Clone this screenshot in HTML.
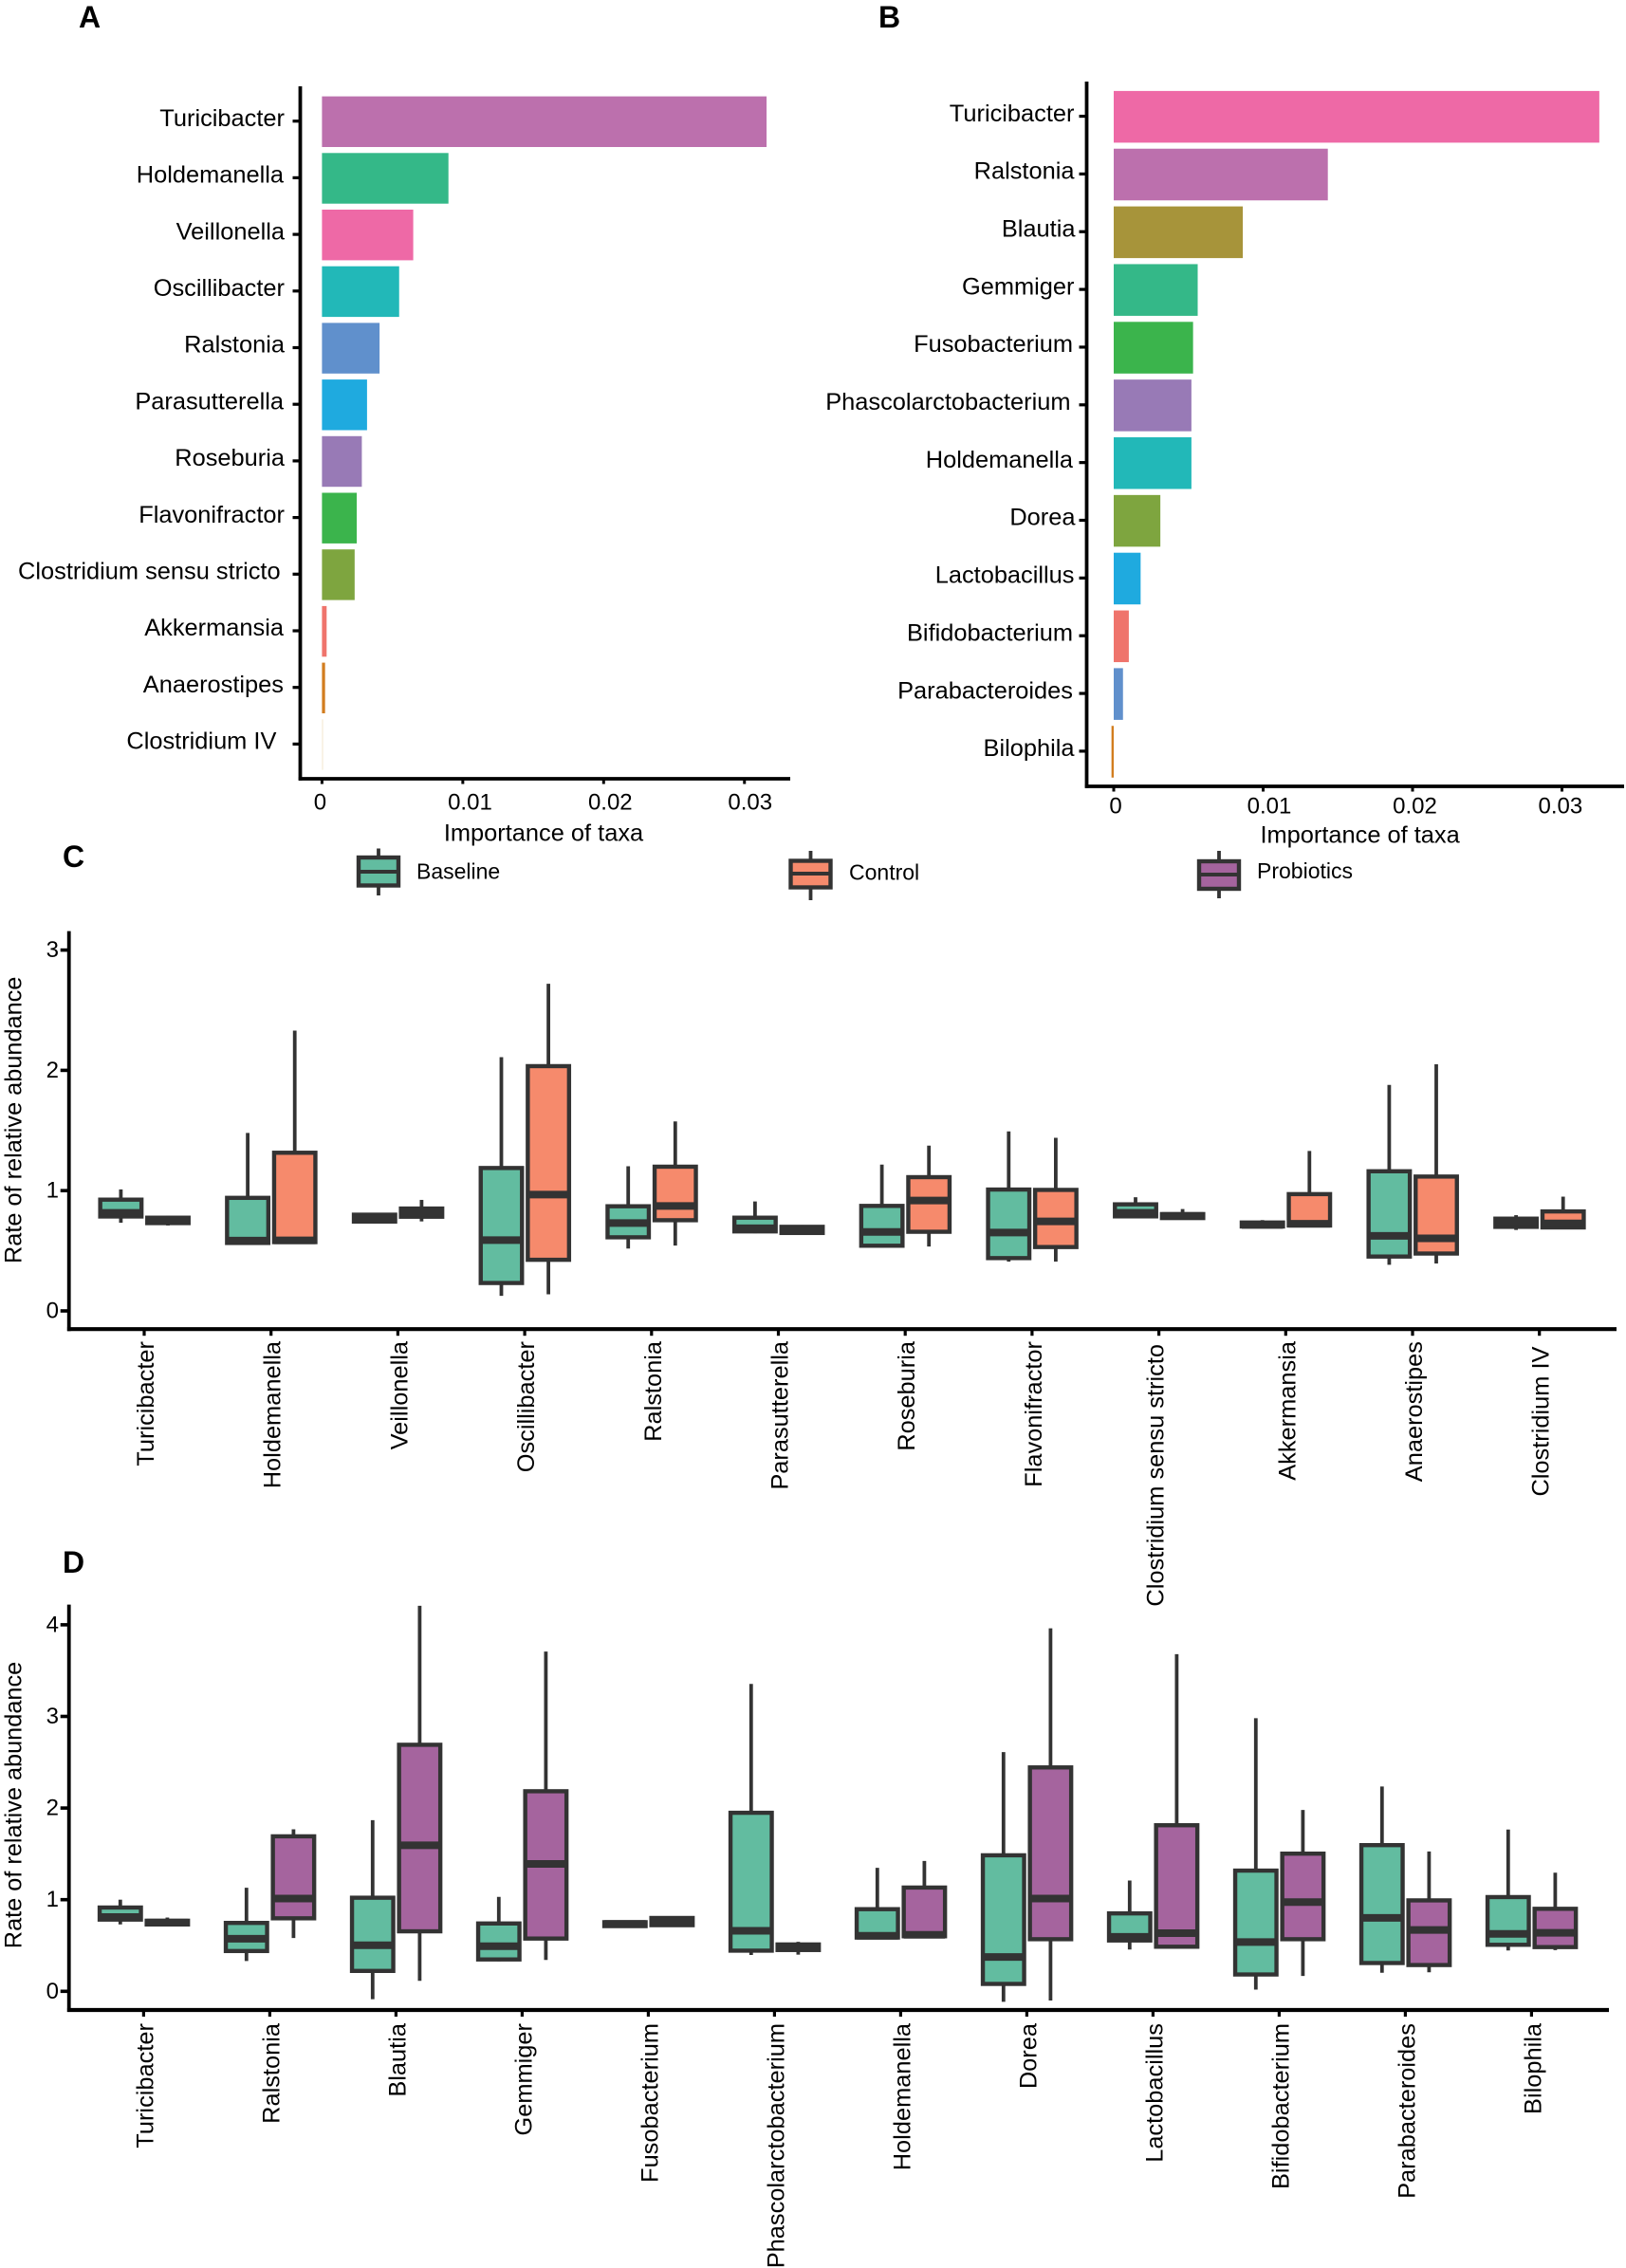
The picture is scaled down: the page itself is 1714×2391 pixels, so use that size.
<!DOCTYPE html>
<html lang="en">
<head>
<meta charset="utf-8">
<title>Importance of taxa and relative abundance</title>
<style>
html,body{margin:0;padding:0;background:#fff}
svg{display:block}
text{font-family:"Liberation Sans",Arial,sans-serif;fill:#000}
.letter{font-weight:bold;font-size:32px}
.legend-label{font-size:23px}
</style>
</head>
<body>
<svg id="fig" xmlns="http://www.w3.org/2000/svg" width="1714" height="2391" viewBox="0 0 1714 2391">
<rect x="0" y="0" width="1714" height="2391" fill="#fff"/>
<text class="letter" x="83" y="29">A</text>
<text class="letter" x="926" y="29">B</text>
<text class="letter" x="66" y="914">C</text>
<text class="letter" x="66" y="1658">D</text>
<g>
<g>
<line x1="399" x2="399" y1="894.5" y2="944" stroke="#333" stroke-width="3.8"/>
<rect x="378" y="904" width="42" height="29.5" fill="#62BCA0" stroke="#333" stroke-width="4.4"/>
<line x1="378" x2="420" y1="919" y2="919" stroke="#333" stroke-width="4"/>
<text class="legend-label" x="439" y="926.5">Baseline</text>
</g>
<g>
<line x1="854.5" x2="854.5" y1="897" y2="949" stroke="#333" stroke-width="3.8"/>
<rect x="833.5" y="907.5" width="42" height="28" fill="#F68A6C" stroke="#333" stroke-width="4.4"/>
<line x1="833.5" x2="875.5" y1="921" y2="921" stroke="#333" stroke-width="4"/>
<text class="legend-label" x="895" y="927.5">Control</text>
</g>
<g>
<line x1="1285" x2="1285" y1="897" y2="947" stroke="#333" stroke-width="3.8"/>
<rect x="1264" y="908" width="42" height="29" fill="#A5649E" stroke="#333" stroke-width="4.4"/>
<line x1="1264" x2="1306" y1="922" y2="922" stroke="#333" stroke-width="4"/>
<text class="legend-label" x="1325" y="926">Probiotics</text>
</g>
</g>
</svg>
<script>
// Panel A
const categoriesA = ["Turicibacter","Holdemanella","Veillonella","Oscillibacter","Ralstonia","Parasutterella","Roseburia","Flavonifractor","Clostridium sensu stricto","Akkermansia","Anaerostipes","Clostridium IV"];
const importanceA = [0.03157,0.00898,0.00648,0.00548,0.00409,0.0032,0.00283,0.00247,0.00232,0.00033,0.00022,0.00007];
const colorsA = ["#BC70AD","#34B888","#EE69A6","#22B8B8","#6090CC","#1FAADF","#987AB6","#3BB44C","#7EA53F","#EF746C","#D27D1F","#F5EBD5"];
const tickValuesA = [0,0.01,0.02,0.03];
const tickLabelsA = ["0","0.01","0.02","0.03"];
// Panel B
const categoriesB = ["Turicibacter","Ralstonia","Blautia","Gemmiger","Fusobacterium","Phascolarctobacterium","Holdemanella","Dorea","Lactobacillus","Bifidobacterium","Parabacteroides","Bilophila"];
const importanceB = [0.0325,0.01433,0.00864,0.00562,0.00531,0.0052,0.0052,0.00312,0.0018,0.00101,0.00062,-0.00015];
const colorsB = ["#EE69A6","#BC70AD","#A7943A","#34B888","#3BB44C","#987AB6","#22B8B8","#7EA53F","#1FAADF","#EF746C","#6090CC","#D27D1F"];
const tickValuesB = [0,0.01,0.02,0.03];
const tickLabelsB = ["0","0.01","0.02","0.03"];
// Panel C: each box is [low whisker, q1, median, q3, high whisker]
const categoriesC = categoriesA;
const baselineC = [
[.733,.77,.815,.94,1.01],[.55,.55,.585,.955,1.48],[.728,.728,.77,.815,.815],[.125,.217,.589,1.203,2.11],
[.519,.597,.73,.885,1.203],[.646,.646,.687,.79,.91],[.527,.527,.657,.888,1.216],[.41,.424,.652,1.024,1.493],
[.771,.771,.815,.901,.945],[.687,.687,.715,.75,.755],[.383,.437,.624,1.176,1.879],[.673,.684,.735,.782,.796]];
const controlC = [
[.71,.715,.75,.79,.79],[.557,.557,.587,1.33,2.33],[.744,.768,.817,.866,.923],[.138,.41,.967,2.05,2.72],
[.543,.739,.872,1.214,1.575],[.633,.633,.673,.714,.714],[.535,.643,.918,1.127,1.374],[.41,.516,.744,1.021,1.439],
[.757,.757,.79,.82,.847],[.695,.695,.725,.986,1.33],[.394,.462,.603,1.132,2.05],[.679,.679,.728,.842,.95]];
const yTicksC = [0,1,2,3];
const yTickLabelsC = ["0","1","2","3"];
// Panel D
const categoriesD = categoriesB;
const baselineD = [
[.73,.763,.81,.934,1.0],[.33,.42,.574,.766,1.13],[-.086,.203,.503,1.041,1.868],[.328,.328,.492,.76,1.03],
[.692,.692,.735,.774,.774],[.396,.424,.66,1.968,3.355],[.567,.567,.606,.916,1.348],[-.114,.061,.374,1.504,2.61],
[.456,.535,.595,.87,1.209],[.018,.164,.538,1.337,2.98],[.203,.289,.802,1.615,2.235],[.446,.488,.627,1.048,1.765]];
const probioticsD = [
[.71,.71,.75,.79,.805],[.581,.777,1.012,1.711,1.768],[.114,.635,1.594,2.71,4.207],[.342,.556,1.39,2.203,3.708],
[.702,.702,.76,.82,.82],[.4,.431,.48,.531,.54],[.581,.581,.617,1.152,1.422],[-.1,.549,1.012,2.463,3.961],
[.467,.467,.635,1.832,3.679],[.168,.549,.973,1.522,1.979],[.207,.267,.67,1.012,1.526],[.449,.463,.638,.92,1.294]];
const yTicksD = [0,1,2,3,4];
const yTickLabelsD = ["0","1","2","3","4"];

const GREEN = "#62BCA0", ORANGE = "#F68A6C", PURPLE = "#A5649E", INK = "#333";
const NS = "http://www.w3.org/2000/svg";
const fig = document.getElementById("fig");

function add(parent, tag, attrs, txt) {
  const el = document.createElementNS(NS, tag);
  for (const k in attrs) el.setAttribute(k, attrs[k]);
  if (txt !== undefined) el.textContent = txt;
  parent.appendChild(el);
  return el;
}
function slug(s) { return s.toLowerCase().replace(/[^a-z0-9]+/g, "-"); }

function group(name) {
  const g = add(fig, "g", {});
  
  
  return g;
}

function axisLine(g, name, x1, y1, x2, y2, w) {
  const l = add(g, "line", {x1, y1, x2, y2, stroke: "#000", "stroke-width": w});
  
  
  return l;
}

function barPanel(p) {
  const g = group("bar-panel-" + p.id);
  const x = v => p.x0 + v * p.perUnit;
  axisLine(g, "y-axis-line", p.axisX, p.top, p.axisX, p.bottom + 1.7, 3.8);
  axisLine(g, "x-axis-line", p.axisX - 1.7, p.bottom, p.right, p.bottom, 3.8);
  p.categories.forEach((name, i) => {
    const v = p.values[i];
    const y = p.barTop + i * p.pitch;
    const x1 = Math.min(x(0), x(v)), x2 = Math.max(x(0), x(v));
    const bar = add(g, "rect", {x: x1, y: y, width: Math.max(x2 - x1, 1.2), height: p.barH, fill: p.colors[i]});
    
    
    const cy = y + p.barH / 2;
    const tick = add(g, "line", {x1: p.axisX - 8, x2: p.axisX, y1: cy - 0.6, y2: cy - 0.6, stroke: "#000", "stroke-width": 3.2});
    
    
    const lab = add(g, "text", {x: p.labelRight + (p.nudge[name] || 0), y: cy + 4.6, "text-anchor": "end", "font-size": 25.4}, name);
    
    
  });
  p.tickValues.forEach((v, i) => {
    const tick = add(g, "line", {x1: x(v), x2: x(v), y1: p.bottom, y2: p.bottom + 5.5, stroke: "#000", "stroke-width": 3});
    
    
    const lab = add(g, "text", {x: x(v) + p.tickShift[i], y: p.tickBase, "text-anchor": "middle", "font-size": 24}, p.tickLabels[i]);
    
    
  });
  const title = add(g, "text", {x: p.titleX, y: p.titleY, "text-anchor": "middle", "font-size": 25.4}, "Importance of taxa");
  
  
}

function drawBox(g, cx, d, y, fill, name) {
  const [lo, q1, med, q3, hi] = d;
  const w = 43.5;
  const whisk = add(g, "line", {x1: cx, x2: cx, y1: y(hi), y2: y(lo), stroke: INK, "stroke-width": 3.8});
  
  
  const top = y(q3) + 1.9, bot = y(q1) - 1.9;
  const box = add(g, "rect", {x: cx - w / 2, y: top, width: w, height: Math.max(bot - top, 0.5), fill: fill, stroke: INK, "stroke-width": 4.4});
  
  
  const m = add(g, "line", {x1: cx - w / 2, x2: cx + w / 2, y1: y(med), y2: y(med), stroke: INK, "stroke-width": 8});
  
  
}

function boxPanel(p) {
  const g = group("box-panel-" + p.id);
  const y = v => p.y0 - v * p.perUnit;
  const cx = i => p.x0 + i * p.pitch;
  axisLine(g, "y-axis-line", p.axisX, p.top, p.axisX, p.bottom + 2, 3.8);
  axisLine(g, "x-axis-line", p.axisX - 1.8, p.bottom, p.right, p.bottom, 4.2);
  p.yTicks.forEach((v, i) => {
    const tick = add(g, "line", {x1: p.axisX - 9, x2: p.axisX, y1: y(v), y2: y(v), stroke: "#000", "stroke-width": 3.6});
    
    
    const lab = add(g, "text", {x: 62, y: y(v) + 7.5, "text-anchor": "end", "font-size": 24}, p.yTickLabels[i]);
    
    
  });
  const tx = 22.5;
  const yt = add(g, "text", {x: tx, y: p.titleY, "text-anchor": "middle", "font-size": 25.3, transform: "rotate(-90 " + tx + " " + p.titleY + ")"}, "Rate of relative abundance");
  
  
  p.categories.forEach((name, i) => {
    const c = cx(i);
    const tick = add(g, "line", {x1: c, x2: c, y1: p.bottom, y2: p.bottom + 7, stroke: "#000", "stroke-width": 3.2});
    
    
    const shift = p.labelShift[name] || [0, 0];
    const bx = c + 10 + shift[0], by = p.labelTop + shift[1];
    const lab = add(g, "text", {x: bx, y: by, "text-anchor": "end", "font-size": 25.4, transform: "rotate(-90 " + bx + " " + by + ")"}, name);
    
    
    drawBox(g, c - 24.6, p.seriesA[i], y, GREEN, slug(name) + '-baseline');
    drawBox(g, c + 25, p.seriesB[i], y, p.fillB, slug(name) + '-' + p.seriesBName);
  });
}

barPanel({id: "a", categories: categoriesA, values: importanceA, colors: colorsA, tickValues: tickValuesA, tickLabels: tickLabelsA,
  x0: 339.4, perUnit: 14845, axisX: 316.5, top: 91, bottom: 821, right: 833, barTop: 101.6, pitch: 59.7, barH: 53.4,
  labelRight: 300, nudge: {"Clostridium sensu stricto": -4.4, "Clostridium IV": -8.6, "Holdemanella": -1, "Parasutterella": -1, "Akkermansia": -1, "Anaerostipes": -1},
  tickShift: [-2, 7.6, 7, 6], tickBase: 853.5, titleX: 573, titleY: 886.5});
barPanel({id: "b", categories: categoriesB, values: importanceB, colors: colorsB, tickValues: tickValuesB, tickLabels: tickLabelsB,
  x0: 1174, perUnit: 15750, axisX: 1145.5, top: 86, bottom: 829, right: 1712, barTop: 95.9, pitch: 60.85, barH: 54.5,
  labelRight: 1132.5, nudge: {"Phascolarctobacterium": -4, "Holdemanella": -1.5, "Fusobacterium": -1.5, "Bifidobacterium": -1.5, "Parabacteroides": -1.5, "Blautia": 1, "Dorea": 1},
  tickShift: [2, 6.5, 2.5, -1.6], tickBase: 857.5, titleX: 1433.6, titleY: 888.5});
boxPanel({id: "c", categories: categoriesC, seriesA: baselineC, seriesB: controlC, fillB: ORANGE, seriesBName: "control",
  yTicks: yTicksC, yTickLabels: yTickLabelsC, x0: 152, pitch: 133.7, y0: 1382, perUnit: 126.8,
  axisX: 72.7, top: 981.6, bottom: 1401.2, right: 1704, titleY: 1180.8, labelTop: 1414,
  labelShift: {"Clostridium sensu stricto": [-5, 3], "Clostridium IV": [0, 5.5]}});
boxPanel({id: "d", categories: categoriesD, seriesA: baselineD, seriesB: probioticsD, fillB: PURPLE, seriesBName: "probiotics",
  yTicks: yTicksD, yTickLabels: yTickLabelsD, x0: 151.4, pitch: 133, y0: 2099.3, perUnit: 96.6,
  axisX: 72.7, top: 1691.6, bottom: 2119, right: 1696, titleY: 1903, labelTop: 2133,
  labelShift: {}});
</script>
</body>
</html>
